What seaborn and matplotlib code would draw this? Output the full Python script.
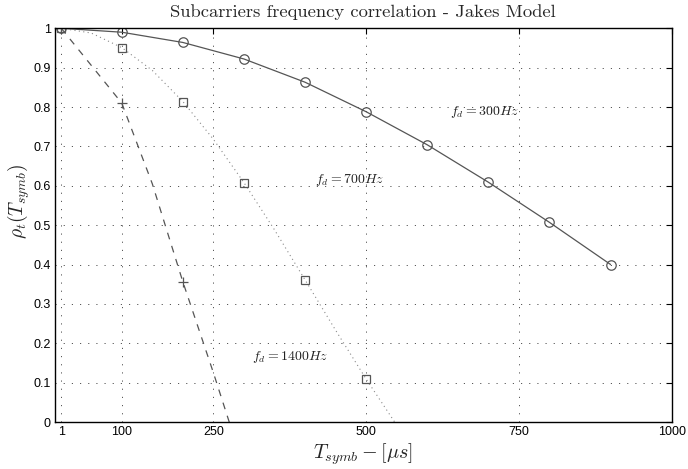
import matplotlib
matplotlib.use("Agg")
import matplotlib.pyplot as plt
import seaborn as sns
import pandas as pd

# ---- data ----
t_300 = [1, 100, 200, 300, 400, 500, 600, 700, 800, 900]
rho_300 = [1.0, 0.99, 0.964, 0.922, 0.863, 0.788, 0.704, 0.609, 0.507, 0.400]

t_700_mk = [1, 100, 200, 300, 400, 500]
rho_700_mk = [1.0, 0.951, 0.814, 0.608, 0.361, 0.109]
t_700_ln = [1, 50, 100, 150, 200, 250, 300, 350, 400, 450, 500, 550]
rho_700_ln = [1.0, 0.988, 0.951, 0.893, 0.814, 0.718, 0.608, 0.488, 0.361, 0.233, 0.109, -0.008]

t_1400_mk = [1, 100, 200]
rho_1400_mk = [1.0, 0.81, 0.356]
t_1400_ln = [1, 100, 150, 200, 250, 280]
rho_1400_ln = [1.0, 0.81, 0.605, 0.356, 0.125, -0.02]

x_ticks = [1, 100, 250, 500, 750, 1000]
y_ticks = [0, 0.1, 0.2, 0.3, 0.4, 0.5, 0.6, 0.7, 0.8, 0.9, 1]
y_tick_labels = ["0", "0.1", "0.2", "0.3", "0.4", "0.5", "0.6", "0.7", "0.8", "0.9", "1"]

labels = ["$f_d = 300Hz$", "$f_d = 700Hz$", "$f_d = 1400Hz$"]
label_pos = [(637, 0.787), (416, 0.615), (313, 0.165)]

sns.set_style("white")
plt.rcParams["mathtext.fontset"] = "cm"
plt.rcParams["font.family"] = ["Liberation Sans", "DejaVu Sans"]

fig = plt.figure(figsize=(6.88, 4.69), dpi=100)
ax = fig.add_axes([0.0799, 0.1002, 0.8964, 0.8395])

c_line = "#555555"
df300 = pd.DataFrame({"t": t_300, "rho": rho_300})
df700l = pd.DataFrame({"t": t_700_ln, "rho": rho_700_ln})
df700m = pd.DataFrame({"t": t_700_mk, "rho": rho_700_mk})
df1400l = pd.DataFrame({"t": t_1400_ln, "rho": rho_1400_ln})
df1400m = pd.DataFrame({"t": t_1400_mk, "rho": rho_1400_mk})

sns.lineplot(data=df300, x="t", y="rho", ax=ax, color=c_line, lw=0.9,
             marker="o", markersize=6.8, markerfacecolor="none",
             markeredgecolor=c_line, markeredgewidth=0.9, sort=False)
sns.lineplot(data=df700l, x="t", y="rho", ax=ax, color="#8a8a8a", lw=0.8,
             linestyle=(0, (1, 3)), sort=False)
sns.lineplot(data=df700m, x="t", y="rho", ax=ax, color=c_line, lw=0,
             marker="s", markersize=5.2, markerfacecolor="none",
             markeredgecolor=c_line, markeredgewidth=0.9, sort=False)
sns.lineplot(data=df1400l, x="t", y="rho", ax=ax, color=c_line, lw=0.9,
             linestyle=(0, (5.5, 5.5)), sort=False)
sns.lineplot(data=df1400m, x="t", y="rho", ax=ax, color=c_line, lw=0,
             marker="+", markersize=6.5, markeredgecolor=c_line,
             markeredgewidth=0.9, sort=False)

for lab, (xx, yy) in zip(labels, label_pos):
    ax.text(xx, yy, lab, fontsize=10, ha="left", va="center", color="#222222")

ax.set_xlim(-9.3, 1000)
ax.set_ylim(0, 1)
ax.set_xticks(x_ticks)
ax.set_xticklabels([str(v) for v in x_ticks])
ax.set_yticks(y_ticks)
ax.set_yticklabels(y_tick_labels)
ax.tick_params(direction="in", length=4, width=0.8, top=True, right=True,
               labelsize=9, colors="black", pad=3)
ax.grid(True, linestyle=(0, (1.2, 7.2)), color="#555555", linewidth=0.7)
for s in ax.spines.values():
    s.set_color("black")
    s.set_linewidth(1.0)

ax.set_title("Subcarriers frequency correlation - Jakes Model",
             fontfamily="cmr10", fontsize=13.4, pad=8)
ax.set_xlabel(r"$T_{symb} - [\mu s]$", fontsize=14.5, labelpad=2)
ax.set_ylabel(r"$\rho_t(T_{symb})$", fontsize=14, labelpad=2)
ax.yaxis.set_label_coords(-0.038, 0.56)

fig.savefig("out.png", dpi=100)
